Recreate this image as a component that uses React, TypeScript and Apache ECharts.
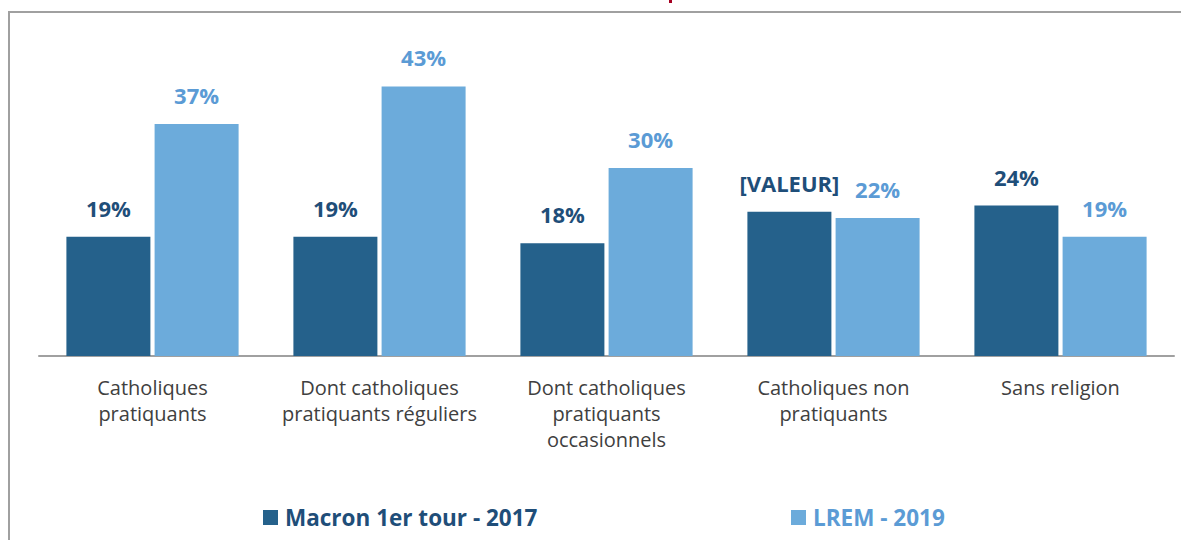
import React, { useEffect, useRef } from "react";
import * as echarts from "echarts";

const categories = [
  "Catholiques\npratiquants",
  "Dont catholiques\npratiquants réguliers",
  "Dont catholiques\npratiquants\noccasionnels",
  "Catholiques non\npratiquants",
  "Sans religion",
];
const macron2017 = [19, 19, 18, 23, 24];
const macronLabels = ["19%", "19%", "18%", "[VALEUR]", "24%"];
const lrem2019 = [37, 43, 30, 22, 19];
const seriesNames = ["Macron 1er tour - 2017", "LREM - 2019"];

const DARK = "#25618b";
const LIGHT = "#6cabdb";
const DARK_TXT = "#1f4e79";
const LIGHT_TXT = "#5b9bd5";
const FONT = "'Open Sans', sans-serif";

export default function App() {
  const ref = useRef<HTMLDivElement>(null);
  useEffect(() => {
    const chart = echarts.init(ref.current!, null, { renderer: "svg" });
    chart.setOption({
      animation: false,
      backgroundColor: "#ffffff",
      grid: { left: 39, width: 1135, top: 42.5, height: 313.5 },
      xAxis: {
        type: "category",
        data: categories,
        axisLine: { lineStyle: { color: "#a0a0a0", width: 2 } },
        axisTick: { show: false },
        axisLabel: {
          interval: 0,
          margin: 18,
          color: "#404040",
          fontFamily: FONT,
          fontSize: 20,
          lineHeight: 26,
        },
      },
      yAxis: { type: "value", min: 0, max: 50, show: false, splitLine: { show: false } },
      legend: [
        {
          left: 263,
          top: 506,
          padding: 0,
          itemWidth: 15,
          itemHeight: 15,
          icon: "rect",
          data: [{ name: seriesNames[0] }],
          textStyle: { color: DARK_TXT, fontFamily: FONT, fontWeight: "bold", fontSize: 22.5, padding: [0, 0, 0, 2] },
        },
        {
          left: 791,
          top: 506,
          padding: 0,
          itemWidth: 15,
          itemHeight: 15,
          icon: "rect",
          data: [{ name: seriesNames[1] }],
          textStyle: { color: LIGHT_TXT, fontFamily: FONT, fontWeight: "bold", fontSize: 22.5, padding: [0, 0, 0, 2] },
        },
      ],
      series: [
        {
          name: seriesNames[0],
          type: "bar",
          data: macron2017,
          barWidth: 84,
          barGap: "5%",
          itemStyle: { color: DARK },
          label: {
            show: true,
            position: "top",
            distance: 18,
            color: DARK_TXT,
            fontFamily: FONT,
            fontWeight: "bold",
            fontSize: 22,
            formatter: (p: any) => macronLabels[p.dataIndex],
          },
        },
        {
          name: seriesNames[1],
          type: "bar",
          data: lrem2019,
          barWidth: 84,
          barGap: "5%",
          itemStyle: { color: LIGHT },
          label: {
            show: true,
            position: "top",
            distance: 18,
            color: LIGHT_TXT,
            fontFamily: FONT,
            fontWeight: "bold",
            fontSize: 22,
            formatter: "{c}%",
          },
        },
      ],
      graphic: [
        {
          type: "rect",
          silent: true,
          shape: { x: 9, y: 12, width: 1400, height: 800 },
          style: { fill: "none", stroke: "#a0a0a0", lineWidth: 2 },
        },
        {
          type: "rect",
          silent: true,
          shape: { x: 669, y: 0, width: 3, height: 3 },
          style: { fill: "#a50021" },
        },
      ],
    });
    return () => chart.dispose();
  }, []);
  return (
    <div
      ref={ref}
      style={{ position: "fixed", left: 0, top: 0, width: 1181, height: 540 }}
    />
  );
}
